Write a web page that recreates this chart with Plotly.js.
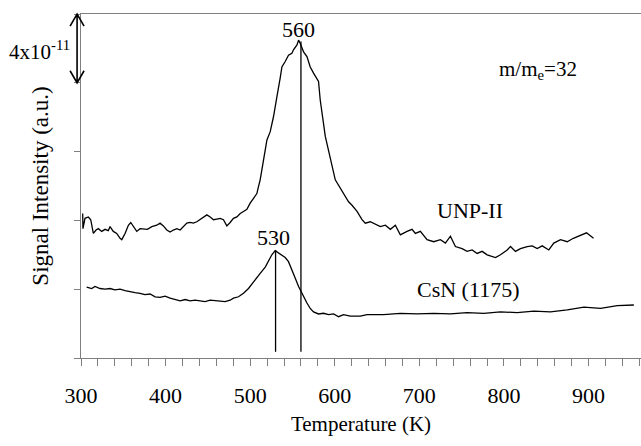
<!DOCTYPE html>
<html>
<head>
<meta charset="utf-8">
<script src="https://cdn.plot.ly/plotly-3.0.1.min.js"></script>
</head>
<body style="margin:0">
<div id="chart" style="width:641px;height:446px;"></div>
<script>
// UNP-II (m/me = 32) — temperature (K) and signal (arbitrary units, 1 unit = 4x10^-11)
var unpT = [302.0, 302.3, 304.7, 308.7, 311.5, 314.6, 317.8, 320.5, 324.5, 328.4, 332.3, 334.3, 338.2, 342.2, 346.2, 348.2, 352.1, 356.0, 358.8, 361.9, 365.9, 369.8, 373.7, 378.5, 383.7, 389.6, 393.5, 397.4, 401.4, 405.3, 409.2, 413.3, 417.2, 421.1, 425.1, 429.0, 432.9, 436.9, 440.8, 444.7, 448.8, 452.7, 456.6, 460.6, 464.5, 468.4, 472.4, 476.3, 480.2, 484.3, 488.2, 492.1, 496.1, 500.0, 503.9, 507.9, 509.8, 511.8, 519.8, 523.7, 527.6, 529.6, 531.6, 535.5, 537.5, 541.4, 545.3, 549.3, 551.2, 555.3, 557.2, 559.2, 563.1, 567.1, 571.0, 574.9, 580.8, 582.8, 584.8, 586.7, 588.8, 600.6, 604.5, 608.5, 612.4, 616.3, 620.4, 626.3, 632.2, 636.1, 642.0, 647.9, 653.8, 659.8, 665.7, 671.6, 677.5, 685.4, 691.3, 695.3, 701.2, 709.1, 716.9, 724.9, 730.8, 736.7, 742.6, 750.5, 756.4, 762.4, 768.3, 774.2, 780.1, 790.0, 795.9, 803.8, 807.7, 813.6, 819.5, 827.5, 833.4, 839.3, 845.2, 853.0, 858.9, 866.9, 874.8, 882.0, 890.5, 897.6, 905.9];
var unpV = [2.10, 1.88, 2.03, 2.05, 2.01, 1.81, 1.86, 1.88, 1.84, 1.87, 1.85, 1.91, 1.84, 1.81, 1.74, 1.72, 1.81, 1.93, 1.97, 1.91, 1.84, 1.88, 1.88, 1.87, 1.91, 1.93, 1.96, 1.92, 1.86, 1.83, 1.86, 1.88, 1.86, 1.91, 1.96, 1.97, 1.96, 1.98, 2.01, 2.05, 2.08, 2.05, 2.01, 2.02, 2.03, 2.01, 1.92, 1.97, 2.03, 2.05, 2.10, 2.13, 2.16, 2.25, 2.32, 2.39, 2.49, 2.59, 3.17, 3.29, 3.51, 3.63, 3.80, 4.07, 4.23, 4.31, 4.40, 4.43, 4.48, 4.55, 4.62, 4.57, 4.45, 4.38, 4.23, 4.14, 4.02, 3.75, 3.56, 3.36, 3.22, 2.59, 2.51, 2.44, 2.34, 2.27, 2.22, 2.13, 2.01, 1.96, 1.98, 1.95, 1.91, 1.93, 1.87, 1.93, 1.79, 1.84, 1.87, 1.81, 1.84, 1.72, 1.69, 1.72, 1.67, 1.77, 1.62, 1.59, 1.55, 1.57, 1.52, 1.55, 1.50, 1.46, 1.50, 1.57, 1.62, 1.55, 1.59, 1.62, 1.63, 1.59, 1.63, 1.57, 1.67, 1.72, 1.69, 1.74, 1.79, 1.82, 1.74];

// CsN (1175)
var csnT = [306.7, 312.6, 316.6, 322.5, 328.4, 334.3, 340.2, 346.2, 352.1, 358.0, 363.9, 369.8, 375.7, 381.7, 387.6, 393.5, 399.4, 405.3, 411.2, 417.2, 423.1, 429.0, 434.9, 440.8, 446.7, 452.7, 458.6, 464.5, 470.4, 476.3, 480.2, 486.2, 492.1, 498.0, 503.9, 511.8, 517.8, 521.7, 525.6, 529.6, 535.5, 541.4, 545.3, 549.3, 553.3, 557.2, 561.2, 567.1, 571.0, 574.9, 580.8, 586.7, 592.7, 598.6, 604.5, 610.4, 618.3, 630.2, 638.1, 657.8, 677.5, 697.3, 717.0, 736.7, 756.4, 776.1, 795.9, 815.6, 835.3, 855.0, 874.8, 894.5, 914.2, 934.0, 953.6];
var csnV = [1.03, 1.01, 1.04, 1.01, 1.00, 1.01, 0.99, 1.00, 0.98, 0.96, 0.95, 0.94, 0.92, 0.93, 0.89, 0.88, 0.90, 0.87, 0.85, 0.83, 0.85, 0.83, 0.84, 0.83, 0.82, 0.84, 0.83, 0.83, 0.82, 0.84, 0.87, 0.89, 0.94, 1.01, 1.11, 1.23, 1.32, 1.42, 1.50, 1.56, 1.51, 1.46, 1.40, 1.29, 1.16, 1.04, 0.94, 0.80, 0.72, 0.67, 0.64, 0.65, 0.63, 0.64, 0.60, 0.63, 0.61, 0.61, 0.63, 0.63, 0.65, 0.64, 0.65, 0.64, 0.66, 0.65, 0.67, 0.66, 0.68, 0.67, 0.70, 0.74, 0.72, 0.76, 0.77];

// Peak markers
var peakTemps = [530, 560];
var peakTops = [1.57, 4.60];
var peakLabels = ['530', '560'];
var lineBase = 0.09;

// Text labels
var seriesLabels = ['UNP-II', 'CsN (1175)'];
var seriesLabelT = [760, 758];
var seriesLabelV = [2.15, 0.99];
var massLabel = 'm/m<sub>e</sub>=32';
var scaleLabel = '4x10<sup>-11</sup>';

(function () {
  var FONT = 'Liberation Serif';
  var AX = '#7f7f7f';
  function f(sz) { return {family: FONT, size: sz || 22, color: '#000'}; }

  var traces = [
    {x: unpT, y: unpV, type: 'scatter', mode: 'lines', line: {color: '#000', width: 1.3}, hoverinfo: 'skip'},
    {x: csnT, y: csnV, type: 'scatter', mode: 'lines', line: {color: '#000', width: 1.3}, hoverinfo: 'skip'}
  ];

  var shapes = [];
  for (var i = 0; i < peakTemps.length; i++) {
    shapes.push({type: 'line', xref: 'x', yref: 'y', x0: peakTemps[i], x1: peakTemps[i], y0: lineBase, y1: peakTops[i], line: {color: '#000', width: 1.3}});
  }
  // double-headed scale arrow (one y unit = 4x10^-11)
  var ax0 = -0.007, hw = 0.0125, hh = 0.035, yTop = 1.0, yBot = 0.8;
  shapes.push({type: 'path', xref: 'paper', yref: 'paper', layer: 'above',
    path: 'M' + ax0 + ',' + yBot + ' L' + ax0 + ',' + yTop +
          ' M' + (ax0 - hw) + ',' + (yTop - hh) + ' L' + ax0 + ',' + yTop + ' L' + (ax0 + hw) + ',' + (yTop - hh) +
          ' M' + (ax0 - hw) + ',' + (yBot + hh) + ' L' + ax0 + ',' + yBot + ' L' + (ax0 + hw) + ',' + (yBot + hh),
    line: {color: '#000', width: 1.6}});

  var annotations = [];
  for (var j = 0; j < peakTemps.length; j++) {
    annotations.push({x: peakTemps[j] - 3, y: peakTops[j], xref: 'x', yref: 'y', text: peakLabels[j], showarrow: false, xanchor: 'center', yanchor: 'bottom', yshift: -2, font: f()});
  }
  for (var k = 0; k < seriesLabels.length; k++) {
    annotations.push({x: seriesLabelT[k], y: seriesLabelV[k], xref: 'x', yref: 'y', text: seriesLabels[k], showarrow: false, xanchor: 'center', yanchor: 'middle', font: f()});
  }
  annotations.push({x: 840, y: 4.19, xref: 'x', yref: 'y', text: massLabel, showarrow: false, xanchor: 'center', yanchor: 'middle', font: f(21)});
  annotations.push({x: -0.075, y: 0.895, xref: 'paper', yref: 'paper', text: scaleLabel, showarrow: false, xanchor: 'center', yanchor: 'middle', font: f(21)});

  var layout = {
    width: 641, height: 446,
    margin: {l: 81, r: 0, t: 14, b: 88, pad: 0},
    paper_bgcolor: '#fff', plot_bgcolor: '#fff',
    showlegend: false,
    xaxis: {
      range: [300, 962], tick0: 300, dtick: 100,
      ticks: 'outside', ticklen: 7, tickwidth: 1, tickcolor: AX,
      showline: true, linecolor: AX, linewidth: 1, mirror: true,
      showgrid: false, zeroline: false,
      tickfont: f(22),
      ticklabelstandoff: 11,
      minor: {dtick: 20, ticks: 'outside', ticklen: 7, tickwidth: 1, tickcolor: AX, showgrid: false},
      title: {text: 'Temperature (K)', font: f(21), standoff: 8},
      automargin: false
    },
    yaxis: {
      range: [0, 5], tick0: 0, dtick: 1,
      ticks: 'outside', ticklen: 6, tickwidth: 1, tickcolor: AX,
      showticklabels: false,
      showline: true, linecolor: AX, linewidth: 1,
      showgrid: false, zeroline: false,
      title: {text: 'Signal Intensity (a.u.)', font: f(23), standoff: 18},
      automargin: false
    },
    shapes: shapes,
    annotations: annotations
  };

  Plotly.newPlot('chart', traces, layout, {displayModeBar: false});
})();
</script>
</body>
</html>
